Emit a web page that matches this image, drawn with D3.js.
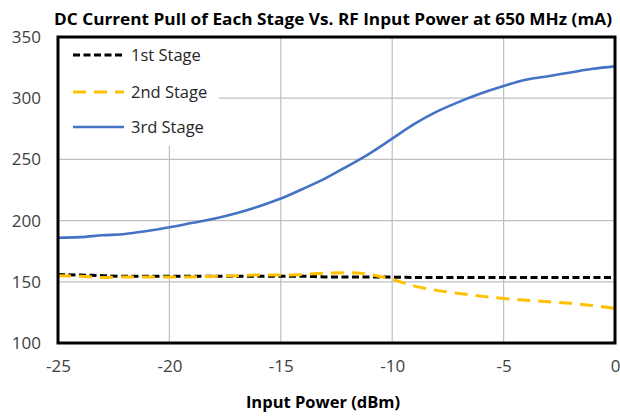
<!DOCTYPE html>
<html><head><meta charset="utf-8">
<script src="https://cdn.jsdelivr.net/npm/d3@7"></script>
<style>body{margin:0;background:#fff}svg{display:block}</style>
</head><body>
<svg id="c" width="620" height="416"></svg>
<script>
const xValues = [-25,-24,-23,-22,-21,-20,-19,-18,-17,-16,-15,-14,-13,-12,-11,-10,-9,-8,-7,-6,-5,-4,-3,-2,-1,0];
const stage1 = [156,155.5,155,154.5,154.5,154.5,154.5,154.5,154.5,154.5,154.5,154.5,154,154,154,153.8,153.6,153.6,153.6,153.6,153.6,153.6,153.6,153.6,153.6,153.6];
const stage2 = [155,154.5,153.5,154,154,154,154,154.5,155,155.5,155.5,156,157,157.5,156,152,146.5,143,140.5,138.3,136.4,135,133.7,132.4,130.7,128.3];
const stage3 = [186,186.5,188,189,191.5,194.5,198,201.5,206,211.5,218,226,234.5,244.5,255,267,279,289,297,304,310,315,318,321,324,326];
const seriesNames = ["1st Stage","2nd Stage","3rd Stage"];
const yTicks = [100,150,200,250,300,350];
const xTicks = [-25,-20,-15,-10,-5,0];
const titleText = "DC Current Pull of Each Stage Vs. RF Input Power at 650 MHz (mA)";
const xLabel = "Input Power (dBm)";

const svg = d3.select("#c");
const L=58, R=615, T=37, B=343;
const x = d3.scaleLinear().domain([-25,0]).range([L,R]);
const y = d3.scaleLinear().domain([100,350]).range([B,T]);
const FONT = "Open Sans, sans-serif";

// gridlines
svg.append("g").selectAll("line").data(yTicks).join("line")
  .attr("x1",L).attr("x2",R).attr("y1",d=>y(d)).attr("y2",d=>y(d))
  .attr("stroke","#bfbfbf").attr("stroke-width",1.2);
svg.append("g").selectAll("line").data(xTicks).join("line")
  .attr("x1",d=>x(d)).attr("x2",d=>x(d)).attr("y1",T).attr("y2",B)
  .attr("stroke","#bfbfbf").attr("stroke-width",1.2);

const styles = [
  {color:"#000000", dash:"7,3.5", w:3},
  {color:"#FFC000", dash:"13,8", w:3},
  {color:"#4472C4", dash:null, w:2.6}
];
const data = [stage1, stage2, stage3];
const line = d3.line().x((d,i)=>x(xValues[i])).y(d=>y(d)).curve(d3.curveMonotoneX);
[2,0,1].forEach(k=>{
  svg.append("path").datum(data[k]).attr("d",line)
    .attr("fill","none").attr("stroke",styles[k].color)
    .attr("stroke-width",styles[k].w)
    .attr("stroke-dasharray",styles[k].dash);
});

// legend
const lg = svg.append("g");
lg.append("rect").attr("x",L+1).attr("y",T+1).attr("width",160).attr("height",108).attr("fill","#fff");
const rowsY=[55,92,127];
seriesNames.forEach((n,k)=>{
  lg.append("line").attr("x1",73).attr("x2",124).attr("y1",rowsY[k]).attr("y2",rowsY[k])
    .attr("stroke",styles[k].color).attr("stroke-width",styles[k].w).attr("stroke-dasharray",styles[k].dash);
  lg.append("text").attr("x",131).attr("y",rowsY[k]).attr("dy","0.35em")
    .attr("font-family",FONT).attr("font-size",16.5).attr("fill","#262626").text(n);
});

// frame
svg.append("rect").attr("x",L).attr("y",T).attr("width",R-L).attr("height",B-T)
  .attr("fill","none").attr("stroke","#000").attr("stroke-width",3);

// axes
const yAxis = d3.axisLeft(y).tickValues(yTicks).tickSize(0).tickPadding(17);
const gy = svg.append("g").attr("transform",`translate(${L},0)`).call(yAxis);
gy.select(".domain").remove();
gy.selectAll("text").attr("font-family",FONT).attr("font-size",17).attr("fill","#404040");
const xAxis = d3.axisBottom(x).tickValues(xTicks).tickSize(0).tickPadding(17).tickFormat(d=>String(d));
const gx = svg.append("g").attr("transform",`translate(0,${B})`).call(xAxis);
gx.select(".domain").remove();
gx.selectAll("text").attr("font-family",FONT).attr("font-size",17).attr("fill","#404040");

svg.append("text").attr("x",333).attr("y",25).attr("text-anchor","middle")
  .attr("font-family",FONT).attr("font-weight","bold").attr("font-size",16.5)
  .attr("textLength",558).attr("lengthAdjust","spacingAndGlyphs")
  .attr("fill","#000").text(titleText);
svg.append("text").attr("x",323).attr("y",408).attr("text-anchor","middle")
  .attr("font-family",FONT).attr("font-weight","bold").attr("font-size",16.5)
  .attr("fill","#000").text(xLabel);
</script>
</body></html>
